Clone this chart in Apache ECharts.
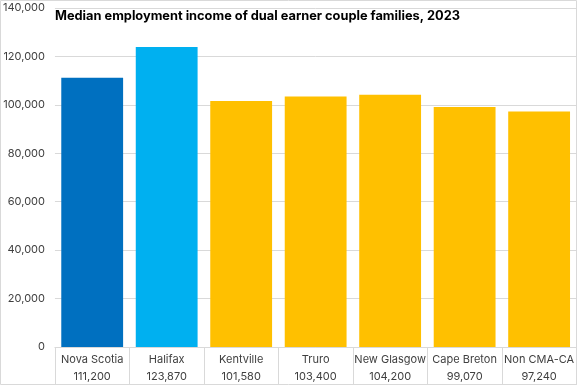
<!DOCTYPE html>
<html><head><meta charset="utf-8">
<script src="https://cdn.jsdelivr.net/npm/echarts@6/dist/echarts.min.js"></script>
<style>html,body{margin:0;padding:0;background:#fff}#c{width:577px;height:385px}</style>
</head><body><div id="c"></div>
<script>
const categories = ['Nova Scotia','Halifax','Kentville','Truro','New Glasgow','Cape Breton','Non CMA-CA'];
const values = [111200,123870,101580,103400,104200,99070,97240];
const barColors = ['#0070C0','#00B0F0','#FFC000','#FFC000','#FFC000','#FFC000','#FFC000'];
const yTicks = [0,20000,40000,60000,80000,100000,120000,140000];
const titleText = 'Median employment income of dual earner couple families, 2023';

const fmt = v => v.toLocaleString('en-US');
const chart = echarts.init(document.getElementById('c'), null, {renderer:'canvas'});
chart.setOption({
  animation:false,
  title:{text:titleText,left:50,top:5,textStyle:{fontFamily:'Inter',fontWeight:'bold',fontSize:12.8,color:'#000'}},
  grid:{left:53,right:0,top:8,bottom:38},
  xAxis:{type:'category',data:categories,
    axisLine:{lineStyle:{color:'#d9d9d9'}},
    axisTick:{show:true,length:38,interval:0,lineStyle:{color:'#d9d9d9'}},
    axisLabel:{interval:0,hideOverlap:false,margin:4,align:'center',lineHeight:17,fontFamily:'Inter',fontSize:11,color:'#404040',
      formatter:(v,i)=>v+'\n'+fmt(values[i])}},
  yAxis:{type:'value',min:yTicks[0],max:yTicks[yTicks.length-1],interval:20000,
    axisLine:{show:false},axisTick:{show:false},
    splitLine:{lineStyle:{color:'#d9d9d9'}},
    axisLabel:{margin:10,fontFamily:'Inter',fontSize:11,color:'#404040',formatter:v=>fmt(v)}},
  series:[{type:'bar',barCategoryGap:'17%',
    data:values.map((v,i)=>({value:v,itemStyle:{color:barColors[i]}}))}],
  graphic:[{type:'rect',shape:{x:0.5,y:0.5,width:576,height:384},style:{fill:null,stroke:'#d9d9d9',lineWidth:1},silent:true}]
});
</script></body></html>
